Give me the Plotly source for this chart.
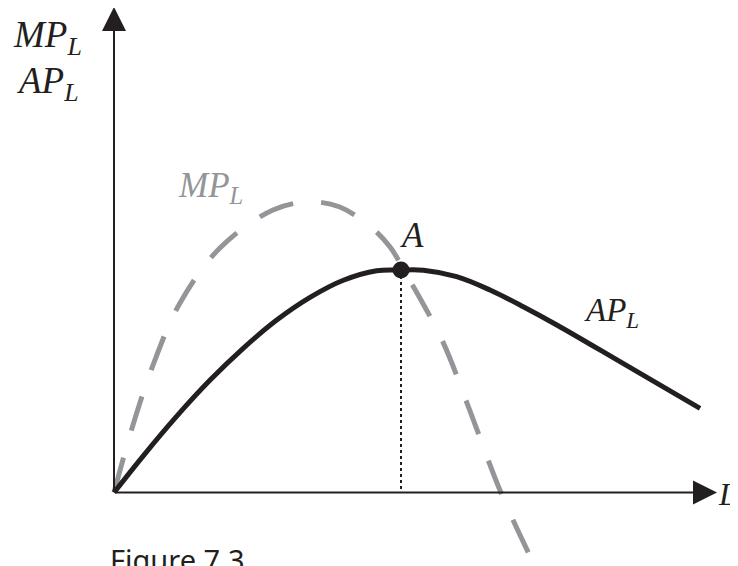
import plotly.graph_objects as go

# page is drawn with an 8px body margin, so the figure is 8px smaller than the window
OFF = 8
W, H = 738 - OFF, 566 - OFF
X0, Y0 = 114, 492.5        # origin of the diagram, window pixels
XU, YU = 28.7, 22.25       # pixels per unit of L and per unit of product

# average product of labour
labor_ap = [0, 1.02, 2.18, 3.34, 4.51, 5.67, 6.83, 7.99, 9.15, 10.0, 10.78, 11.94, 13.10,
            14.26, 15.43, 17.75, 20.42]
ap = [0, 1.65, 3.42, 5.04, 6.49, 7.75, 8.77, 9.54, 9.97, 10.0, 9.99, 9.70, 9.10,
      8.35, 7.53, 5.79, 3.78]

# marginal product of labour
labor_mp = [0, 0.63, 1.36, 2.30, 3.69, 5.54, 6.83, 7.87, 8.99, 9.62, 10.10, 11.43, 12.30, 13.48, 14.56, 14.9]
mp = [0, 2.90, 5.73, 8.52, 10.99, 12.70, 13.06, 12.83, 11.89, 11.03, 10.0, 6.85, 4.02, 0, -3.03, -3.9]

# point A: max of AP where MP = AP
point_a = (10.0, 10.0)

BLACK = "#231f20"
GRAY = "#939598"

xr = [(OFF - X0) / XU, (738 - X0) / XU]
yr = [(Y0 - 566) / YU, (Y0 - OFF) / YU]


def paper(xp, yp):
    return (xp - OFF) / W, 1 - (yp - OFF) / H


fig = go.Figure()

fig.add_trace(go.Scatter(x=labor_mp, y=mp, mode="lines", line_shape="spline",
                         line=dict(color=GRAY, width=5, dash="36px,28px"),
                         hoverinfo="skip"))
fig.add_trace(go.Scatter(x=labor_ap, y=ap, mode="lines", line_shape="spline",
                         line=dict(color=BLACK, width=5), hoverinfo="skip"))
fig.add_trace(go.Scatter(x=[point_a[0], point_a[0]], y=[point_a[1], 0], mode="lines",
                         line=dict(color=BLACK, width=2, dash="3px,3px"), hoverinfo="skip"))
fig.add_trace(go.Scatter(x=[point_a[0]], y=[point_a[1]], mode="markers",
                         marker=dict(color=BLACK, size=17), hoverinfo="skip"))

# axes with arrow heads
x_tip = (717 - X0) / XU
y_tip = (Y0 - 7) / YU
for tx, ty in [(x_tip, 0), (0, y_tip)]:
    fig.add_annotation(x=tx, y=ty, ax=0, ay=0, xref="x", yref="y", axref="x", ayref="y",
                       text="", showarrow=True, arrowhead=2, arrowsize=2.4,
                       arrowwidth=2, arrowcolor=BLACK, standoff=0)

serif = "Liberation Serif"
labels = [
    # text, left px, centre px, size, colour
    ("<i>MP</i><sub><i>L</i></sub>", 11, 38, 37, BLACK),
    ("<i>AP</i><sub><i>L</i></sub>", 14, 84, 37, BLACK),
    ("<i>MP</i><sub><i>L</i></sub>", 176, 188, 35, GRAY),
    ("<i>A</i>", 398, 235, 35, BLACK),
    ("<i>AP</i><sub><i>L</i></sub>", 582, 312, 33, BLACK),
    ("<i>L</i>", 716, 494, 32, BLACK),
]
for txt, lx, cy, size, col in labels:
    px_, py_ = paper(lx, cy)
    fig.add_annotation(x=px_, y=py_, xref="paper", yref="paper", text=txt, showarrow=False,
                       xanchor="left", yanchor="middle",
                       font=dict(family=serif, size=size, color=col))

px_, py_ = paper(108, 559)
fig.add_annotation(x=px_, y=py_, xref="paper", yref="paper", text="Figure 7.3", showarrow=False,
                   xanchor="left", yanchor="middle",
                   font=dict(family="Noto Sans", size=29, color=BLACK))

fig.update_xaxes(range=xr, visible=False)
fig.update_yaxes(range=yr, visible=False)
fig.update_layout(width=W, height=H, margin=dict(l=0, r=0, t=0, b=0),
                  plot_bgcolor="white", paper_bgcolor="white", showlegend=False)

fig.write_html("out.html")
